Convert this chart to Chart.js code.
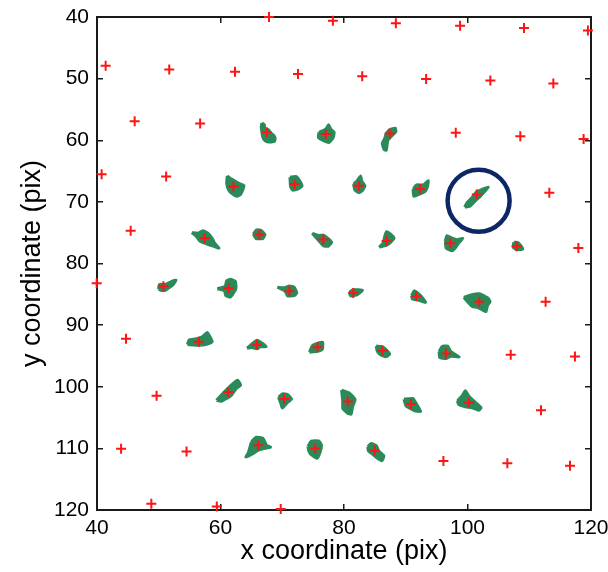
<!DOCTYPE html>
<html>
<head>
<meta charset="utf-8">
<script src="https://cdn.jsdelivr.net/npm/chart.js@4.4.1/dist/chart.umd.min.js"></script>
<style>
  html, body { margin: 0; padding: 0; background: #fff; }
</style>
</head>
<body>
<canvas id="trackChart" width="608" height="572"></canvas>
<script>
// lattice positions (red +), x / y in pix
const latticeX = [
    67.85, 78.2, 88.4, 98.8, 109.15, 119.5,
    41.4, 51.7, 62.35, 72.55, 82.95, 93.3, 103.7, 113.9,
    46.1, 56.7, 67.5, 77.05, 87.4, 98.1, 108.55, 118.8,
    40.75, 51.2, 62.1, 72.0, 82.4, 92.3, 101.5, 113.25,
    45.45, 57.45, 66.3, 76.65, 86.9, 97.2, 107.95, 117.95,
    39.95, 50.75, 61.3, 71.15, 81.5, 91.7, 101.9, 112.65,
    44.7, 56.5, 65.9, 75.7, 86.2, 96.5, 107.0, 117.4,
    49.65, 61.2, 70.3, 80.6, 90.85, 100.2, 111.9,
    43.9, 54.5, 66.1, 75.35, 84.95, 96.1, 106.45, 116.6,
    48.8, 59.4, 69.75
];
const latticeY = [
    40.0, 40.6, 41.0, 41.4, 41.8, 42.2,
    47.9, 48.5, 48.9, 49.25, 49.6, 50.05, 50.3, 50.8,
    56.9, 57.3, 58.7, 59.0, 58.9, 58.8, 59.35, 59.8,
    65.5, 65.9, 67.5, 67.1, 67.4, 67.9, 68.8, 68.5,
    74.7, 75.9, 75.3, 76.1, 76.35, 76.7, 77.2, 77.5,
    83.2, 83.7, 84.0, 84.5, 84.8, 85.3, 86.2, 86.2,
    92.2, 92.7, 93.2, 93.6, 94.15, 94.6, 94.8, 95.1,
    101.45, 100.85, 102.0, 102.4, 102.8, 102.6, 103.8,
    110.05, 110.5, 109.5, 110.0, 110.4, 112.05, 112.4, 112.8,
    119.0, 119.45, 119.85
];

// particle tracks (green): centre + outline offsets, pix
const trackCentres = [
    [67.5, 58.7], [77.05, 59.0], [87.4, 58.9],
    [62.1, 67.5], [72.0, 67.1], [82.4, 67.4], [92.3, 67.9], [101.5, 68.8],
    [57.45, 75.9], [66.3, 75.3], [76.65, 76.1], [86.9, 76.35], [97.2, 76.7], [107.95, 77.2],
    [50.75, 83.7], [61.3, 84.0], [71.15, 84.5], [81.5, 84.8], [91.7, 85.3], [101.9, 86.2],
    [56.5, 92.7], [65.9, 93.2], [75.7, 93.6], [86.2, 94.15], [96.5, 94.6],
    [61.2, 100.85], [70.3, 102.0], [80.6, 102.4], [90.85, 102.8], [100.2, 102.6],
    [66.1, 109.5], [75.35, 110.0], [84.95, 110.4]
];
const trackShapes = [
    [[-0.8,-1.5],[-0.4,-1.2],[-0.3,-0.5],[0.3,-0.4],[0.5,0],[1.1,0.5],[1.35,1.0],[1.2,1.5],[0.3,1.6],[-0.3,1.35],[-0.65,0.8],[-0.8,0],[-0.9,-0.8]],
    [[-1.1,-0.3],[0,-0.8],[0.45,-1.5],[0.8,-0.8],[1.35,-0.3],[1.2,0.55],[0.55,1.35],[-0.3,1.1],[-1.2,0.55]],
    [[0,-0.65],[0.9,-0.85],[1.0,-0.3],[0.3,0.45],[-0.3,1.1],[-0.55,2.7],[-0.9,2.6],[-1.2,1.6],[-0.8,0.8],[-0.55,0]],
    [[-1.0,-1.7],[-0.3,-1.2],[0.8,-0.55],[1.7,-0.15],[1.5,0.55],[1.1,1.35],[0.55,1.6],[-0.3,1.1],[-0.8,0.55],[-1.1,-0.55]],
    [[-0.75,-1.1],[0.3,-1.2],[0.8,-0.55],[1.2,0.3],[0.55,0.8],[-0.3,1.0],[-0.65,0.45]],
    [[-0.85,-0.3],[-0.3,-0.8],[0.3,-1.6],[0.45,-0.8],[1.0,0],[0.55,0.8],[0,1.1],[-0.65,0.65]],
    [[-1.1,0],[-0.55,-0.65],[0.55,-0.65],[1.35,-1.35],[1.2,-0.3],[0.8,0.45],[0,0.8],[-1.0,1.2]],
    [[-1.95,2.05],[-1.6,1.35],[-0.8,0.55],[0,-0.45],[0.8,-0.8],[1.85,-1.2],[1.35,-0.55],[0.55,0.3],[-0.3,1.1],[-1.1,1.9]],
    [[-2.1,-0.9],[-1.1,-0.8],[-0.3,-1.2],[0.55,-0.8],[1.2,0],[1.6,0.8],[2.3,1.6],[1.6,1.35],[0.8,1.1],[0,0.8],[-0.8,0.45],[-1.35,-0.3]],
    [[-1.0,-0.1],[-0.45,-0.75],[0.3,-0.65],[0.9,0],[0.55,0.65],[-0.55,0.65]],
    [[-1.8,-1.0],[-0.8,-0.65],[0,-0.7],[0.8,-0.15],[1.35,0.45],[0.8,1.1],[0,1.0],[-0.65,0.3]],
    [[-1.2,1.0],[-0.55,0.3],[-0.3,-0.8],[0,-1.5],[0.65,-1.1],[1.2,-0.45],[0.55,0.3],[0,0.65],[-0.65,0.85]],
    [[-0.8,-0.3],[-0.55,-1.2],[0.3,-0.8],[1.1,-0.55],[2.05,-0.8],[1.35,0],[0.8,0.8],[0.3,1.25],[-0.65,0.8]],
    [[-0.45,-0.65],[0.3,-0.55],[1.0,0.45],[0,0.55],[-0.55,0.15]],
    [[-0.8,0.45],[-0.65,-0.3],[0.3,-0.3],[1.35,-0.8],[2.05,-1.0],[1.6,-0.3],[0.8,0.3],[0.3,0.65],[-0.45,0.65]],
    [[-1.8,0.1],[-0.55,-0.3],[-0.3,-1.2],[0.3,-1.45],[1.1,-1.1],[1.2,0],[0.8,0.8],[0.3,1.45],[-0.45,1.2],[-0.65,0.45]],
    [[-1.95,-0.65],[-0.8,-0.55],[0,-0.85],[0.8,-0.65],[1.2,0.3],[0.8,0.7],[-0.3,0.75],[-0.65,0]],
    [[-0.65,-0.15],[0,-0.55],[1.5,-0.45],[0.55,0.3],[-0.45,0.45]],
    [[-0.75,-0.1],[-0.3,-0.9],[0.3,-0.45],[0.8,0],[1.5,1.0],[0.8,0.8],[0,0.55],[-0.65,0.45]],
    [[-2.5,-0.7],[-1.35,-1.1],[0,-1.3],[1.35,-0.65],[1.75,0],[1.35,0.55],[1.1,1.6],[0.55,1.35],[-0.3,0.9],[-1.1,0.8],[-1.9,0]],
    [[-1.85,0.45],[-1.6,-0.3],[-0.55,-0.45],[0.55,-0.8],[1.35,-1.5],[2.15,0],[1.1,0.45],[0,0.55]],
    [[-1.6,0.55],[-0.8,-0.15],[0,-0.75],[0.8,-0.3],[1.5,0.3],[0.55,0.3],[0,0.65],[-0.8,0.45]],
    [[-1.3,0.8],[-0.8,-0.3],[0.3,-0.75],[0.85,-0.8],[0.8,0.3],[0,0.65]],
    [[-1.0,-0.75],[0,-0.65],[0.8,0],[1.2,0.55],[0.55,1.0],[-0.3,0.65],[-0.8,0.1]],
    [[-1.1,-0.3],[-0.65,-1.1],[0.3,-1.2],[0.8,-0.3],[2.15,0.55],[0.8,0.45],[0,0.8],[-1.0,0.65]],
    [[-1.85,1.35],[-1.1,0.55],[-0.3,-0.3],[1.1,-1.6],[1.6,-1.9],[2.05,-1.1],[1.35,-0.55],[0.55,0.55],[-0.3,1.1],[-1.1,1.5]],
    [[-0.9,-0.3],[-0.3,-0.85],[0.55,-0.75],[1.2,0],[0.55,0.55],[-0.3,1.45],[-0.55,0.65]],
    [[-1.0,-1.85],[0.3,-1.35],[1.2,-0.3],[0.8,0.8],[0.55,2.05],[0,1.9],[-0.8,1.1],[-0.8,0]],
    [[-1.15,-0.8],[0.3,-0.9],[0.8,-0.15],[1.55,1.2],[0.55,1.1],[0,0.8],[-0.8,0.3]],
    [[-1.85,-0.3],[-1.1,-1.1],[-0.55,-1.95],[0,-1.1],[0.8,-0.3],[2.0,0.8],[1.6,1.2],[0.55,0.8],[-0.55,0.65],[-1.6,0.3]],
    [[-1.1,-0.55],[-0.3,-1.3],[0.8,-1.1],[1.35,0],[2.0,0.3],[0.8,0.55],[0,0.8],[-1.1,1.5],[-2.0,1.9],[-1.6,1.2]],
    [[-1.2,-0.3],[-0.65,-1.2],[0.55,-1.2],[1.0,-0.55],[0.8,0.55],[0.3,1.6],[-0.55,1.1],[-1.0,0.55]],
    [[-1.1,-0.65],[-0.55,-1.2],[0.3,-0.8],[0.65,0],[1.5,0.8],[1.2,1.6],[0.3,1.1],[-0.3,0.55],[-1.0,0]]
];

// highlighted track (blue circle)
const highlightX = [101.8];
const highlightY = [69.8];

const xTicks = [40, 60, 80, 100, 120];
const yTicks = [40, 50, 60, 70, 80, 90, 100, 110, 120];

const FONT = "'Liberation Sans', Arial, sans-serif";
const GREEN = '#2b8a5a';
const RED = '#ff1414';
const NAVY = '#0d2766';

document.addEventListener('DOMContentLoaded', function() {
    const ctx = document.getElementById('trackChart');

    const trackSets = trackCentres.map(function(c, i) {
        const pts = trackShapes[i].map(function(d) {
            return { x: c[0] + d[0], y: c[1] + d[1] };
        });
        pts.push(pts[0]);
        return {
            data: pts,
            showLine: true,
            fill: 'shape',
            tension: 0.15,
            backgroundColor: GREEN,
            borderColor: GREEN,
            borderWidth: 3,
            borderJoinStyle: 'round',
            pointRadius: 0,
            order: 2
        };
    });

    const latticeSet = {
        data: latticeX.map(function(x, i) { return { x: x, y: latticeY[i] }; }),
        pointStyle: 'cross',
        pointRadius: 5,
        borderColor: RED,
        borderWidth: 2,
        clip: false,
        order: 1
    };

    const circleSet = {
        data: highlightX.map(function(x, i) { return { x: x, y: highlightY[i] }; }),
        pointStyle: 'circle',
        pointRadius: 31,
        backgroundColor: 'rgba(0,0,0,0)',
        borderColor: NAVY,
        borderWidth: 4.5,
        clip: false,
        order: 0
    };

    const frameGrid = {
        drawOnChartArea: false,
        drawTicks: true,
        tickLength: -6,
        color: '#1a1a1a',
        lineWidth: 1.5
    };
    const frameBorder = { display: true, color: '#1a1a1a', width: 2 };

    // axes fill a fixed frame; label overhang does not push the plot in
    function noPadding(scale) {
        scale.paddingLeft = 0;
        scale.paddingRight = 0;
        scale.paddingTop = 0;
        scale.paddingBottom = 0;
    }

    new Chart(ctx, {
        type: 'scatter',
        data: { datasets: trackSets.concat([latticeSet, circleSet]) },
        options: {
            responsive: false,
            animation: false,
            layout: {
                autoPadding: false,
                padding: { left: 0, right: 17, top: 17, bottom: 0 }
            },
            plugins: {
                legend: { display: false },
                tooltip: { enabled: false }
            },
            scales: {
                x: {
                    type: 'linear',
                    position: 'bottom',
                    min: 40,
                    max: 120,
                    afterBuildTicks: function(scale) {
                        scale.ticks = xTicks.map(function(v) { return { value: v }; });
                    },
                    afterFit: function(scale) { scale.height = 62; noPadding(scale); },
                    ticks: {
                        padding: 12,
                        color: '#000',
                        font: { family: FONT, size: 21 }
                    },
                    grid: frameGrid,
                    border: frameBorder,
                    title: {
                        display: true,
                        text: 'x coordinate (pix)',
                        color: '#000',
                        padding: { top: 0, bottom: 4 },
                        font: { family: FONT, size: 27 }
                    }
                },
                y: {
                    type: 'linear',
                    position: 'left',
                    reverse: true,
                    min: 40,
                    max: 120,
                    afterBuildTicks: function(scale) {
                        scale.ticks = yTicks.map(function(v) { return { value: v }; });
                    },
                    afterFit: function(scale) { scale.width = 97; noPadding(scale); },
                    ticks: {
                        padding: 14,
                        color: '#000',
                        font: { family: FONT, size: 21 }
                    },
                    grid: frameGrid,
                    border: frameBorder,
                    title: {
                        display: true,
                        text: 'y coordinate (pix)',
                        color: '#000',
                        padding: { top: 16, bottom: 0 },
                        font: { family: FONT, size: 27 }
                    }
                },
                x2: {
                    type: 'linear',
                    position: 'top',
                    min: 40,
                    max: 120,
                    afterBuildTicks: function(scale) {
                        scale.ticks = xTicks.map(function(v) { return { value: v }; });
                    },
                    afterFit: function(scale) { scale.height = 0; noPadding(scale); },
                    ticks: { display: false },
                    grid: frameGrid,
                    border: frameBorder
                },
                y2: {
                    type: 'linear',
                    position: 'right',
                    reverse: true,
                    min: 40,
                    max: 120,
                    afterBuildTicks: function(scale) {
                        scale.ticks = yTicks.map(function(v) { return { value: v }; });
                    },
                    afterFit: function(scale) { scale.width = 0; noPadding(scale); },
                    ticks: { display: false },
                    grid: frameGrid,
                    border: frameBorder
                }
            }
        }
    });
});
</script>
</body>
</html>
